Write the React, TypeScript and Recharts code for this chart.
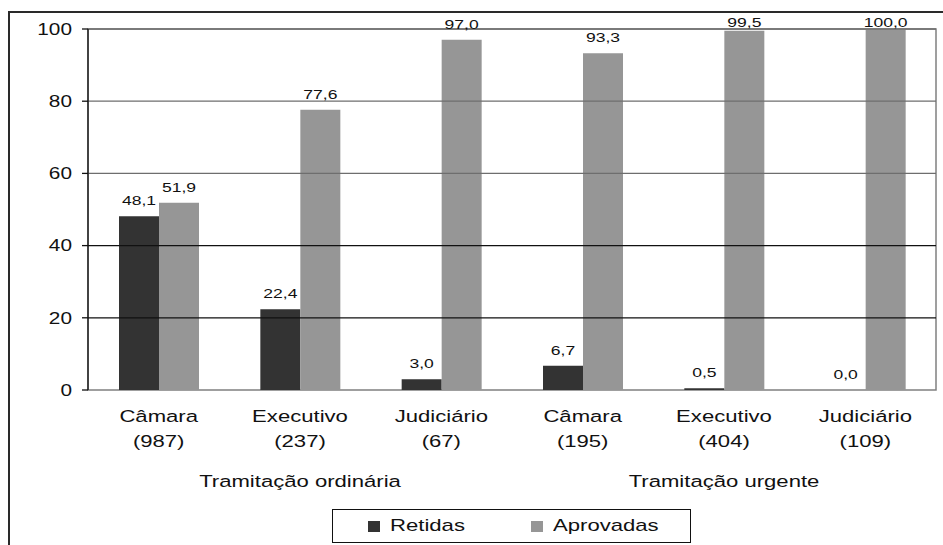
import { BarChart, Bar, XAxis, YAxis, ReferenceLine, ReferenceArea, LabelList } from "recharts";

const origins = ["Câmara", "Executivo", "Judiciário", "Câmara", "Executivo", "Judiciário"];
const counts = [987, 237, 67, 195, 404, 109];
const groupOf = [0, 0, 0, 1, 1, 1];
const groupLabels = ["Tramitação ordinária", "Tramitação urgente"];
const retidas = [48.1, 22.4, 3.0, 6.7, 0.5, 0.0];
const aprovadas = [51.9, 77.6, 97.0, 93.3, 99.5, 100.0];
const yTicks = [0, 20, 40, 60, 80, 100];

const seriesNames = ["Retidas", "Aprovadas"];
const seriesKeys = ["retidas", "aprovadas"];
const seriesColors = ["#333333", "#969696"];

const data = origins.map((o, i) => ({
  key: `${i}`,
  origin: o,
  count: counts[i],
  retidas: retidas[i],
  aprovadas: aprovadas[i],
}));

const FONT = "Arial, 'Liberation Sans', sans-serif";
// the source picture is stretched sideways, so text is widened to match
const SX = 1.3;

const fmt = (v: any) => Number(v).toFixed(1).replace(".", ",");

// the middle category of each group carries the group label
const groupCenter = (i: number) => {
  const members = groupOf.map((g, j) => (g === groupOf[i] ? j : -1)).filter((j) => j >= 0);
  return members[Math.floor(members.length / 2)] === i;
};

function Wide({ x, y, size, anchor = "middle", dy = 0, children }: any) {
  return (
    <text
      transform={`translate(${x},${y}) scale(${SX},1)`}
      x={0}
      y={0}
      dy={dy}
      textAnchor={anchor}
      fontSize={size}
      fill="#111"
      fontFamily={FONT}
    >
      {children}
    </text>
  );
}

function CategoryTick(props: any) {
  const { x, y, payload } = props;
  const i = Number(payload.value);
  return (
    <g>
      <Wide x={x} y={y + 24} size={17}>{origins[i]}</Wide>
      <Wide x={x} y={y + 49} size={17}>({counts[i]})</Wide>
      {groupCenter(i) && (
        <Wide x={x} y={y + 89} size={17}>{groupLabels[groupOf[i]]}</Wide>
      )}
    </g>
  );
}

function ValueTick(props: any) {
  const { x, y, payload } = props;
  return (
    <Wide x={x} y={y} size={16} anchor="end" dy="0.36em">
      {payload.value}
    </Wide>
  );
}

function BarValue(props: any) {
  const { x, y, width, value } = props;
  const base = Math.max(Number(y) - 11, 27);
  return (
    <Wide x={Number(x) + Number(width) / 2} y={base} size={13.5}>
      {fmt(value)}
    </Wide>
  );
}

export default function App() {
  return (
    <div
      style={{
        position: "absolute",
        left: 0,
        top: 0,
        width: 943,
        height: 545,
        overflow: "hidden",
        background: "#fff",
        fontFamily: FONT,
      }}
    >
      <div
        style={{
          position: "absolute",
          left: 8,
          top: 11,
          width: 1000,
          height: 600,
          border: "2px solid #2a2a2a",
        }}
      />
      <div style={{ position: "absolute", left: 0, top: 0 }}>
        <BarChart
          width={943}
          height={545}
          data={data}
          margin={{ top: 29, right: 7, left: 0, bottom: 45 }}
          barSize={40}
          barGap={0}
        >
          <ReferenceArea y1={0} y2={100} fill="none" stroke="#808080" strokeWidth={1.5} ifOverflow="visible" />
          {yTicks
            .filter((t) => t > 0)
            .map((t) => (
              <ReferenceLine key={t} y={t} stroke={t <= 40 ? "#111" : "#6e6e6e"} strokeWidth={1.3} />
            ))}
          <XAxis
            dataKey="key"
            axisLine={false}
            tickLine={false}
            interval={0}
            height={110}
            tick={<CategoryTick />}
          />
          <YAxis
            domain={[0, 100]}
            ticks={yTicks}
            width={88}
            axisLine={{ stroke: "#111", strokeWidth: 1.3 }}
            tickLine={{ stroke: "#111", strokeWidth: 1.3 }}
            tickSize={6}
            tickMargin={10}
            tick={<ValueTick />}
          />
          {seriesKeys.map((k, s) => (
            <Bar
              key={k}
              dataKey={k}
              name={seriesNames[s]}
              fill={seriesColors[s]}
              minPointSize={(v: number) => (v === 0 ? 0.01 : 0)}
              isAnimationActive={false}
            >
              <LabelList dataKey={k} content={<BarValue />} />
            </Bar>
          ))}
        </BarChart>
      </div>
      <div
        style={{
          position: "absolute",
          left: 332,
          top: 509,
          width: 359,
          height: 34,
          border: "1px solid #111",
          boxSizing: "border-box",
          fontSize: 17,
          color: "#111",
        }}
      >
        {seriesNames.map((n, i) => (
          <div
            key={n}
            style={{
              position: "absolute",
              left: i === 0 ? 35 : 198,
              top: 0,
              height: 32,
              display: "flex",
              alignItems: "center",
            }}
          >
            <span
              style={{
                display: "inline-block",
                width: 12,
                height: 11,
                background: seriesColors[i],
                marginRight: 10,
              }}
            />
            <span style={{ display: "inline-block", transform: `scaleX(${SX})`, transformOrigin: "left center" }}>
              {n}
            </span>
          </div>
        ))}
      </div>
    </div>
  );
}
